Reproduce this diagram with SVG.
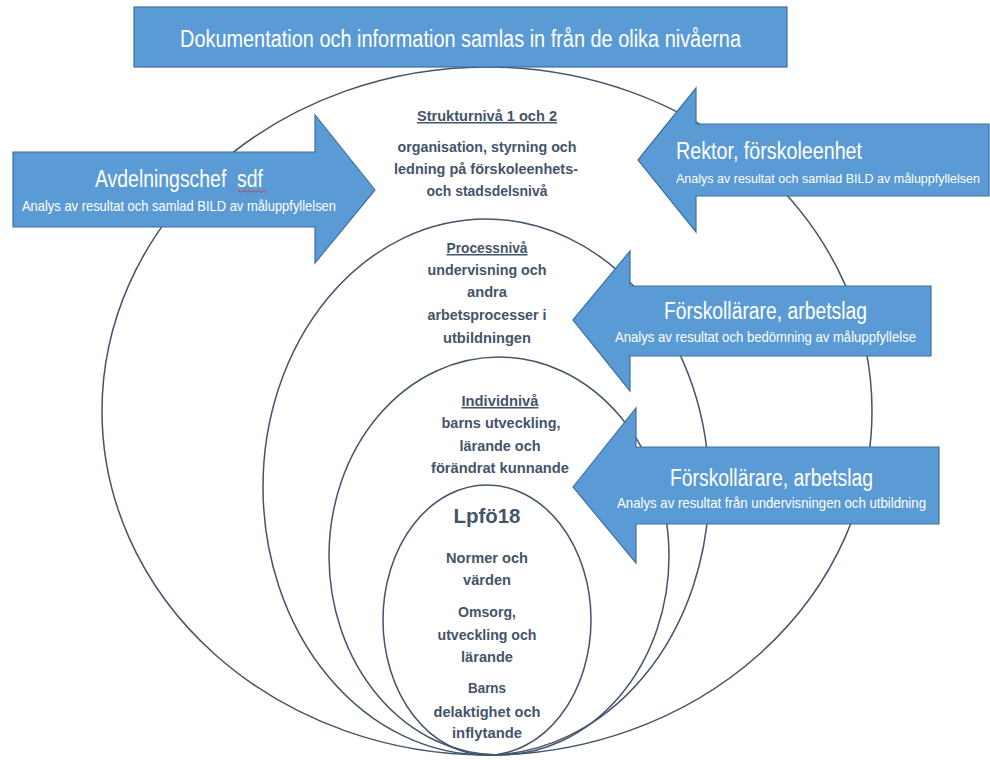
<svg xmlns="http://www.w3.org/2000/svg" width="990" height="760" viewBox="0 0 990 760">
<style>
.ring{fill:none;stroke:#44546A;stroke-width:1.5}
.shape{fill:#5B9BD5;stroke:#41719C;stroke-width:1.2}
.lvl{font-family:"Liberation Sans",Arial,sans-serif;font-weight:bold;font-size:15px;fill:#44546A;text-anchor:middle}
.ul{text-decoration:underline}
.big{font-family:"Liberation Sans",Arial,sans-serif;font-size:23px;fill:#FFFFFF}
.sub{font-family:"Liberation Sans",Arial,sans-serif;font-size:15px;fill:#FFFFFF}
.mid{text-anchor:middle}
</style>
<rect width="990" height="760" fill="#FFFFFF"/>

<g id="level-struktur">
<ellipse class="ring" cx="487" cy="411" rx="385" ry="344"/>
<text class="lvl ul" x="487" y="121" textLength="140" lengthAdjust="spacingAndGlyphs">Strukturnivå 1 och 2</text>
<text class="lvl" x="487" y="152" textLength="179" lengthAdjust="spacingAndGlyphs">organisation, styrning och</text>
<text class="lvl" x="486" y="174" textLength="184" lengthAdjust="spacingAndGlyphs">ledning på förskoleenhets-</text>
<text class="lvl" x="487" y="196" textLength="121" lengthAdjust="spacingAndGlyphs">och stadsdelsnivå</text>
</g>

<g id="level-process">
<ellipse class="ring" cx="486" cy="487" rx="223" ry="268"/>
<text class="lvl ul" x="487" y="253" textLength="81" lengthAdjust="spacingAndGlyphs">Processnivå</text>
<text class="lvl" x="487" y="275" textLength="119" lengthAdjust="spacingAndGlyphs">undervisning och</text>
<text class="lvl" x="487" y="297" textLength="40" lengthAdjust="spacingAndGlyphs">andra</text>
<text class="lvl" x="487" y="320" textLength="119" lengthAdjust="spacingAndGlyphs">arbetsprocesser i</text>
<text class="lvl" x="487" y="343" textLength="88" lengthAdjust="spacingAndGlyphs">utbildningen</text>
</g>

<g id="level-individ">
<ellipse class="ring" cx="499" cy="556" rx="170" ry="199"/>
<text class="lvl ul" x="500" y="406" textLength="77" lengthAdjust="spacingAndGlyphs">Individnivå</text>
<text class="lvl" x="501" y="428" textLength="119" lengthAdjust="spacingAndGlyphs">barns utveckling,</text>
<text class="lvl" x="500" y="451" textLength="81" lengthAdjust="spacingAndGlyphs">lärande och</text>
<text class="lvl" x="500" y="473" textLength="138" lengthAdjust="spacingAndGlyphs">förändrat kunnande</text>
</g>

<g id="level-lpfo">
<ellipse class="ring" cx="487" cy="620" rx="104" ry="135"/>
<text class="lvl" x="487" y="523" style="font-size:21px" textLength="67" lengthAdjust="spacingAndGlyphs">Lpfö18</text>
<text class="lvl" x="487" y="563" textLength="82" lengthAdjust="spacingAndGlyphs">Normer och</text>
<text class="lvl" x="487" y="585" textLength="48" lengthAdjust="spacingAndGlyphs">värden</text>
<text class="lvl" x="487" y="617" textLength="58" lengthAdjust="spacingAndGlyphs">Omsorg,</text>
<text class="lvl" x="487" y="640" textLength="99" lengthAdjust="spacingAndGlyphs">utveckling och</text>
<text class="lvl" x="487" y="662" textLength="52" lengthAdjust="spacingAndGlyphs">lärande</text>
<text class="lvl" x="487" y="693" textLength="38" lengthAdjust="spacingAndGlyphs">Barns</text>
<text class="lvl" x="487" y="717" textLength="107" lengthAdjust="spacingAndGlyphs">delaktighet och</text>
<text class="lvl" x="487" y="738" textLength="70" lengthAdjust="spacingAndGlyphs">inflytande</text>
</g>

<g id="arrow-avdelningschef">
<polygon class="shape" points="13,152 315,152 315,115 375,190 315,263 315,227 13,227"/>
<text class="big mid" x="179" y="187" textLength="168" lengthAdjust="spacingAndGlyphs">Avdelningschef&#160; sdf</text>
<path d="M238,191.5 q1.2,-1.5 2.4,0 t2.4,0 t2.4,0 t2.4,0 t2.4,0 t2.4,0 t2.4,0 t2.4,0 t2.4,0 t2.4,0 t2.4,0 t2.4,0" fill="none" stroke="#E0322B" stroke-width="0.9"/>
<text class="sub mid" x="179" y="211" textLength="314" lengthAdjust="spacingAndGlyphs">Analys av resultat och samlad BILD av måluppfyllelsen</text>
</g>

<g id="arrow-rektor">
<polygon class="shape" points="638,160 696,88 696,124 989,124 989,196 696,196 696,232"/>
<text class="big" x="676" y="159" textLength="186" lengthAdjust="spacingAndGlyphs">Rektor, förskoleenhet</text>
<text class="sub" x="676" y="183" style="font-size:13px" textLength="304" lengthAdjust="spacingAndGlyphs">Analys av resultat och samlad BILD av måluppfyllelsen</text>
</g>

<g id="arrow-forskollarare-1">
<polygon class="shape" points="573,320 630,251 630,286 931,286 931,356 630,356 630,391"/>
<text class="big mid" x="765.5" y="319" textLength="203" lengthAdjust="spacingAndGlyphs">Förskollärare, arbetslag</text>
<text class="sub mid" x="765.5" y="342" textLength="301" lengthAdjust="spacingAndGlyphs">Analys av resultat och bedömning av måluppfyllelse</text>
</g>

<g id="arrow-forskollarare-2">
<polygon class="shape" points="573,487 636,408 636,447 939,447 939,524 636,524 636,563"/>
<text class="big mid" x="771.5" y="486" textLength="203" lengthAdjust="spacingAndGlyphs">Förskollärare, arbetslag</text>
<text class="sub mid" x="771.5" y="508" textLength="309" lengthAdjust="spacingAndGlyphs">Analys av resultat från undervisningen och utbildning</text>
</g>

<g id="banner">
<rect class="shape" x="134" y="7" width="653" height="60"/>
<text class="big mid" x="460.5" y="47" textLength="561" lengthAdjust="spacingAndGlyphs">Dokumentation och information samlas in från de olika nivåerna</text>
</g>

<g id="connectors"/>
</svg>
